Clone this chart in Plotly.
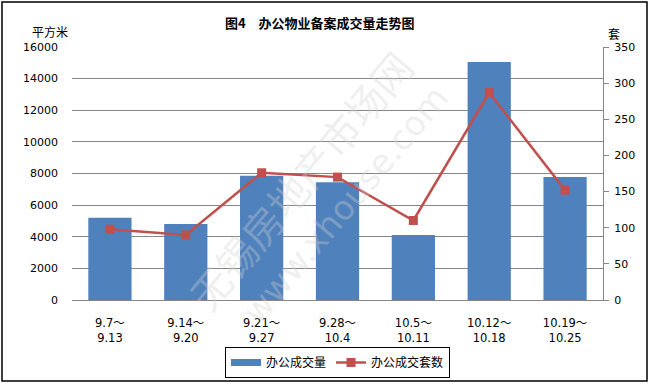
import plotly.graph_objects as go

categories = ["9.7～<br>9.13", "9.14～<br>9.20", "9.21～<br>9.27", "9.28～<br>10.4",
              "10.5～<br>10.11", "10.12～<br>10.18", "10.19～<br>10.25"]
area_values = [5200, 4800, 7850, 7450, 4110, 15050, 7780]
count_values = [98, 90, 176, 170, 110, 287, 152]

L, R, T, B = 72, 47, 47, 84
W, H = 650, 384
pw, ph = W - L - R, H - T - B

def px_x(x):
    return (x - L) / pw

def px_y(y):
    return (H - B - y) / ph

fig = go.Figure()
fig.add_trace(go.Bar(
    x=categories, y=area_values, name="办公成交量",
    marker=dict(color="#4F81BD", line=dict(width=0)),
    yaxis="y", showlegend=False,
))
# legend entry for bars (wide rectangle style)
fig.add_trace(go.Scatter(
    x=[None], y=[None], name="办公成交量", mode="lines",
    line=dict(color="#4F81BD", width=7), yaxis="y",
))
fig.add_trace(go.Scatter(
    x=categories, y=count_values, name="办公成交套数",
    mode="lines+markers",
    line=dict(color="#C0504D", width=2.5),
    marker=dict(symbol="square", size=9, color="#C0504D"),
    yaxis="y2",
))

fig.update_layout(
    width=W, height=H,
    margin=dict(l=L, r=R, t=T, b=B, autoexpand=False),
    paper_bgcolor="white", plot_bgcolor="white",
    bargap=0.43,
    showlegend=True,
    hovermode=False,
    font=dict(family="DejaVu Sans, Noto Sans CJK SC", size=11, color="black"),
    title=dict(text="<b>图4　办公物业备案成交量走势图</b>",
               x=0.492, xanchor="center", y=1 - 23 / H, yanchor="middle",
               font=dict(family="Noto Sans CJK SC", size=13, color="black")),
    xaxis=dict(showline=True, linecolor="#868686", linewidth=1, automargin=False,
               ticks="", showgrid=False, ticklabelstandoff=12,
               tickfont=dict(family="DejaVu Sans, Noto Sans CJK SC", size=11.5)),
    yaxis=dict(range=[0, 16000], dtick=2000, tickformat="d", showgrid=True, gridcolor="#868686",
               gridwidth=1, showline=False, ticks="", zeroline=False, automargin=False,
               ticklabelstandoff=13, tickfont=dict(size=11)),
    yaxis2=dict(range=[0, 350], dtick=50, tickformat="d", overlaying="y", side="right",
                showgrid=False, showline=True, linecolor="#868686", linewidth=1,
                ticks="outside", ticklen=5, tickcolor="#868686", zeroline=False,
                automargin=False, ticklabelstandoff=3, tickfont=dict(size=11)),
    legend=dict(orientation="h", x=0.5, xanchor="center", y=px_y(347), yanchor="top",
                bordercolor="black", borderwidth=1,
                font=dict(family="Noto Sans CJK SC", size=12), itemwidth=30,
                traceorder="normal", tracegroupgap=0),
)

fig.add_annotation(text="平方米", xref="paper", yref="paper",
                   x=px_x(50), y=px_y(32), xanchor="center", yanchor="middle",
                   showarrow=False, font=dict(family="Noto Sans CJK SC", size=12))
fig.add_annotation(text="套", xref="paper", yref="paper",
                   x=px_x(614), y=px_y(33), xanchor="center", yanchor="middle",
                   showarrow=False, font=dict(family="Noto Sans CJK SC", size=12))

# watermark
fig.add_annotation(text="无锡房地产市场网", xref="paper", yref="paper",
                   x=px_x(300), y=px_y(180), xanchor="center", yanchor="middle",
                   showarrow=False, textangle=-50,
                   font=dict(family="Noto Sans CJK SC", size=40, color="rgba(210,210,210,0.35)"))
fig.add_annotation(text="www.xhouse.com", xref="paper", yref="paper",
                   x=px_x(345), y=px_y(205), xanchor="center", yanchor="middle",
                   showarrow=False, textangle=-50,
                   font=dict(family="DejaVu Sans", size=34, color="rgba(210,210,210,0.35)"))

# outer frame
fig.add_shape(type="rect", xref="paper", yref="paper",
              x0=px_x(2), x1=px_x(647), y0=px_y(381), y1=px_y(2),
              line=dict(color="black", width=1.5), layer="below")

fig.write_html("out.html")
